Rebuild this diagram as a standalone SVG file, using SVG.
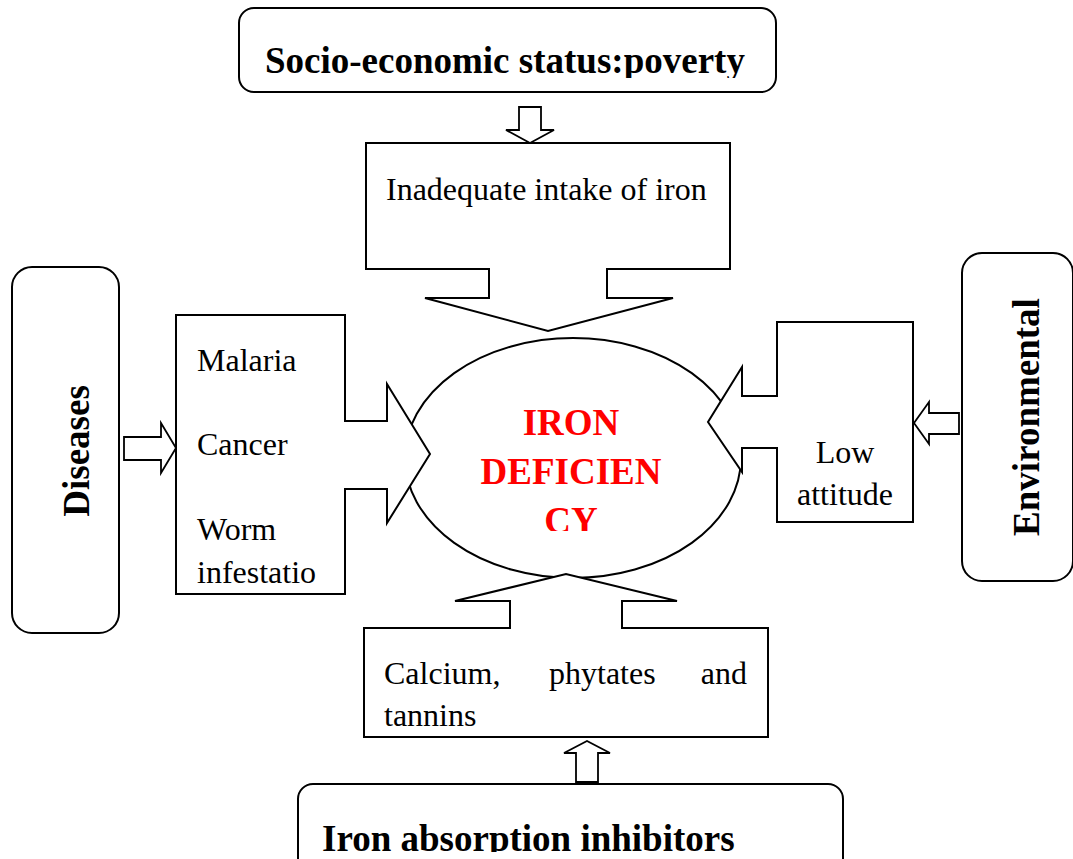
<svg xmlns="http://www.w3.org/2000/svg" width="1073" height="859" viewBox="0 0 1073 859">
<style>
.box{fill:#fff;stroke:#000;stroke-width:2}
.shape{fill:#fff;stroke:#000;stroke-width:2;stroke-linejoin:miter}
.arrow{fill:#fff;stroke:#000;stroke-width:1.8}
.reg{font-family:"Liberation Serif","Times New Roman",serif;font-size:32px;fill:#000}
.head{font-family:"Liberation Serif","Times New Roman",serif;font-size:37px;font-weight:bold;fill:#000}
.core{font-family:"Liberation Serif","Times New Roman",serif;font-size:37px;font-weight:bold;fill:#ff0000}
</style>
<defs>
<clipPath id="clipCore"><rect x="400" y="330" width="350" height="201"/></clipPath>
<clipPath id="clipTop"><rect x="239" y="8" width="537" height="70"/></clipPath>
<clipPath id="clipBottom"><rect x="298" y="784" width="545" height="68"/></clipPath>
</defs>
<rect width="1073" height="859" fill="#fff"/>

<g id="node-socio">
<rect class="box" x="239" y="8" width="537" height="84" rx="15"/>
<text class="head" x="265" y="73" clip-path="url(#clipTop)">Socio-economic status:poverty</text>
</g>

<g id="node-diseases">
<rect class="box" x="12" y="267" width="107" height="366" rx="20"/>
<text class="head" transform="translate(89,451) rotate(-90)" text-anchor="middle">Diseases</text>
</g>

<g id="node-environmental">
<rect class="box" x="962" y="253" width="111" height="328" rx="20"/>
<text class="head" transform="translate(1039,417) rotate(-90)" text-anchor="middle">Environmental</text>
</g>

<g id="node-inhibitors">
<rect class="box" x="298" y="784" width="545" height="110" rx="15"/>
<text class="head" x="322" y="851" clip-path="url(#clipBottom)">Iron absorption inhibitors</text>
</g>

<g id="node-core">
<ellipse class="box" cx="573" cy="458" rx="168" ry="120"/>
<g clip-path="url(#clipCore)" text-anchor="middle">
<text class="core" x="571" y="435">IRON</text>
<text class="core" x="571" y="484">DEFICIEN</text>
<text class="core" x="571" y="533">CY</text>
</g>
</g>

<g id="node-intake">
<path class="shape" d="M366,143 H730 V269 H607 V298 H673 L548,331 L425,298 H489 V269 H366 Z"/>
<text class="reg" x="386" y="200">Inadequate intake of iron</text>
</g>

<g id="node-disease-list">
<path class="shape" d="M176,315 H345 V421 H387 V384 L430,454 L387,523 V489 H345 V594 H176 Z"/>
<text class="reg" x="197" y="371">Malaria</text>
<text class="reg" x="197" y="455">Cancer</text>
<text class="reg" x="197" y="540">Worm</text>
<text class="reg" x="197" y="583">infestatio</text>
</g>

<g id="node-altitude">
<path class="shape" d="M777,322 H913 V522 H777 V448 H742 V472 L708,422 L742,367 V396 H777 Z"/>
<text class="reg" x="845" y="463" text-anchor="middle">Low</text>
<text class="reg" x="845" y="505" text-anchor="middle">attitude</text>
</g>

<g id="node-calcium">
<path class="shape" d="M364,628 H510 V601 H455 L566,574 L677,601 H622 V628 H768 V737 H364 Z"/>
<text class="reg" x="384" y="684">Calcium,</text>
<text class="reg" x="549" y="684">phytates</text>
<text class="reg" x="747" y="684" text-anchor="end">and</text>
<text class="reg" x="384" y="726">tannins</text>
</g>

<g id="connectors">
<path class="arrow" d="M519,107 H541 V130 H554 L530,143 L506,130 H519 Z"/>
<path class="arrow" d="M124,437 H161 V423 L176,448 L161,473 V460 H124 Z"/>
<path class="arrow" d="M959,413 H929 V402 L914,423 L929,444 V434 H959 Z"/>
<path class="arrow" d="M576,782 V753 H564 L587,741 L610,753 H598 V782 Z"/>
</g>
</svg>
